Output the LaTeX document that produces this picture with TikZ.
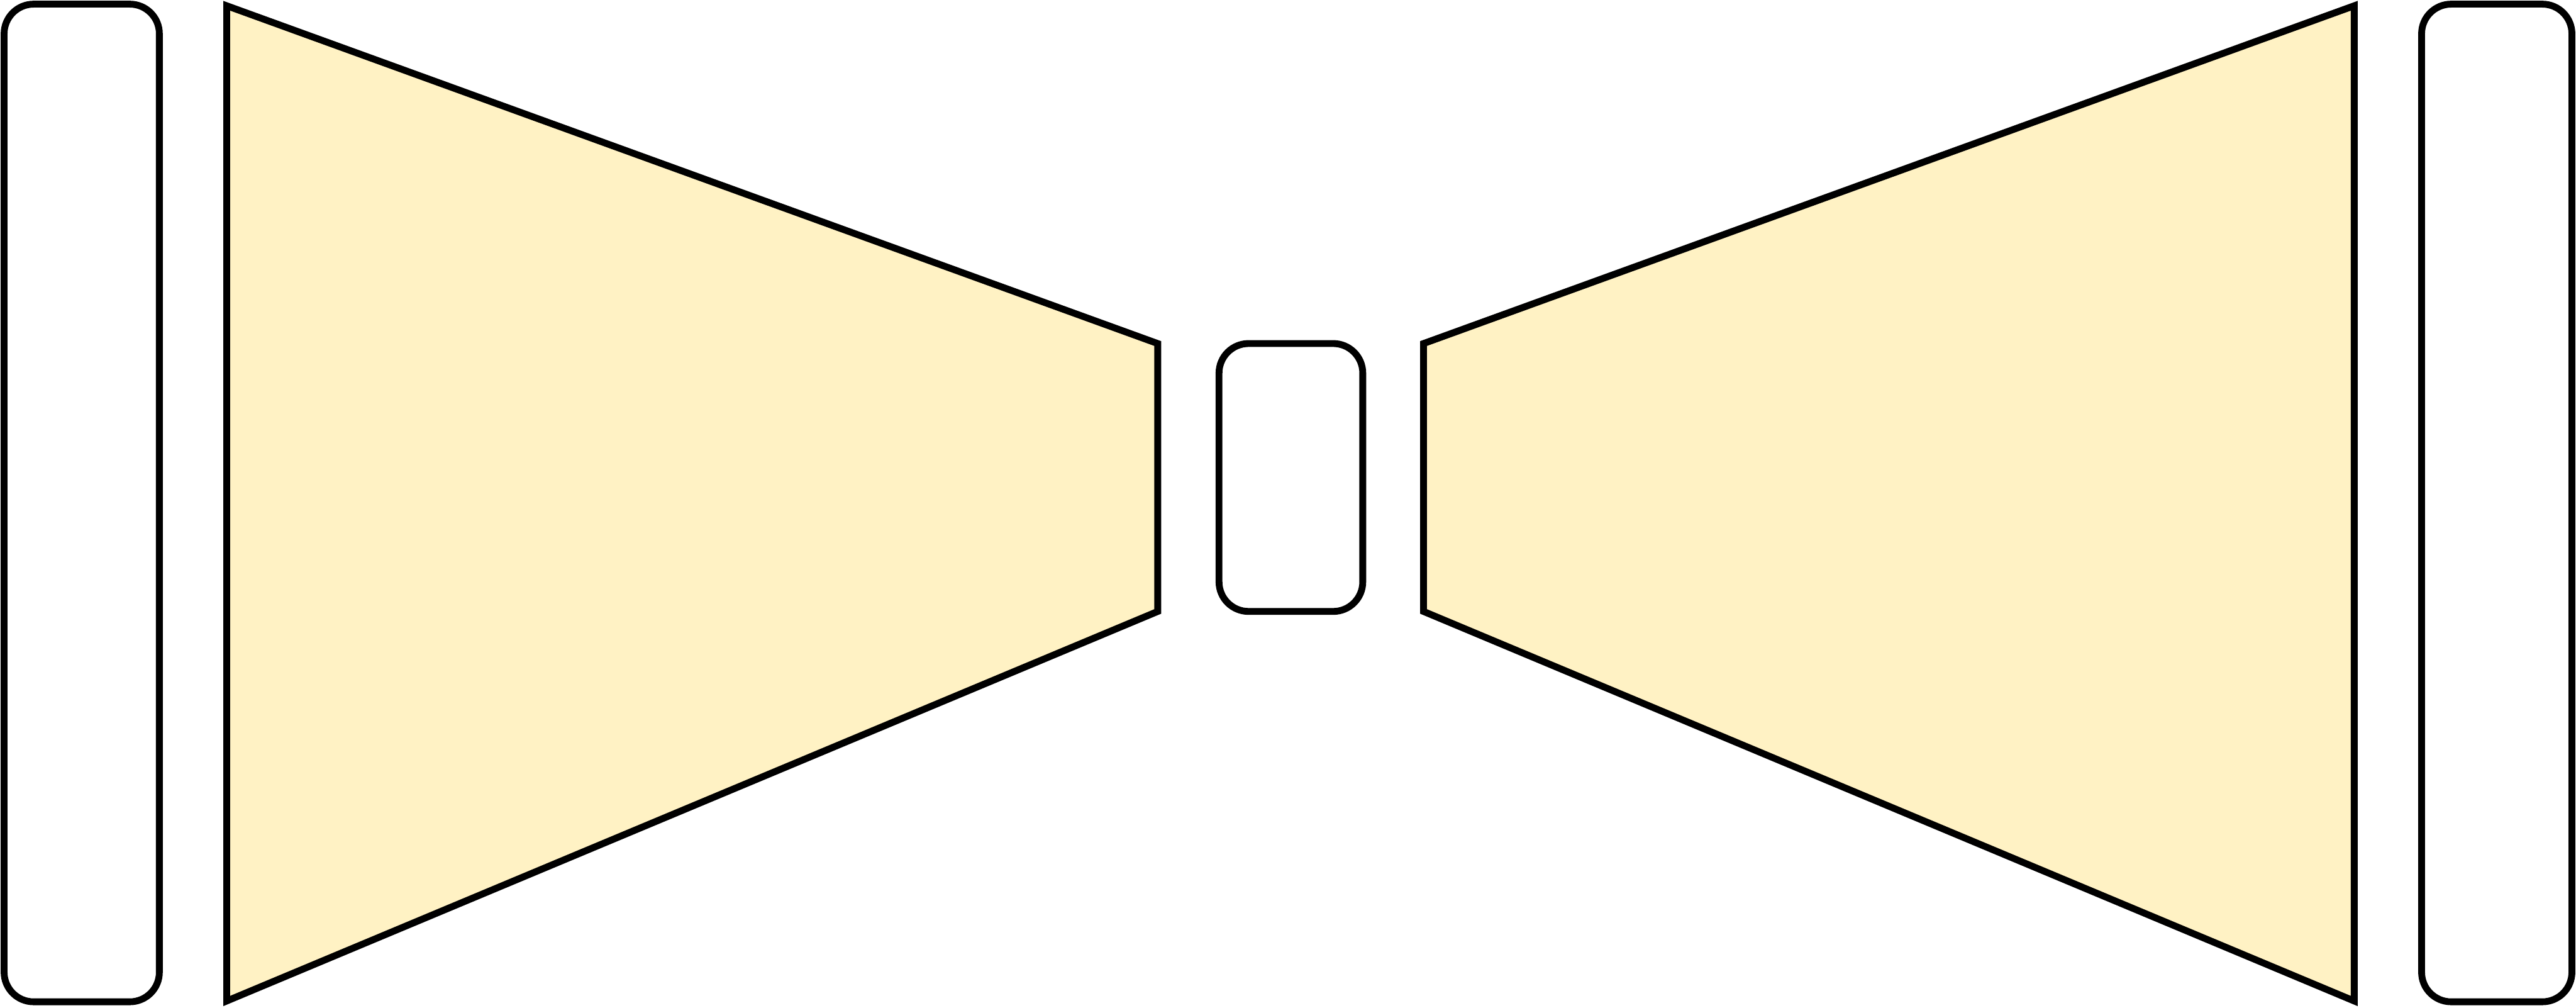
\documentclass[tikz,border=0pt]{standalone}
\usetikzlibrary{positioning}
\definecolor{trapfill}{HTML}{FFF2C4}
\tikzset{
  outline/.style={draw=black, line width=5.9pt},
  roundbox/.style={outline, fill=white, rounded corners=0.9cm, inner sep=0pt, outer sep=0pt},
  trap/.style={outline, fill=trapfill, line join=miter},
}
\begin{document}
\begin{tikzpicture}[x=0.05cm, y=-0.05cm]
\useasboundingbox (0,0) rectangle (1568,613);
% side boxes and bottleneck box
\node[roundbox, minimum width=4.725cm, minimum height=30.35cm] (inbox) at (49.75,306) {};
\node[roundbox, minimum width=4.375cm, minimum height=8.15cm] (code) at (785.75,290.5) {};
\node[roundbox, minimum width=4.575cm, minimum height=30.35cm] (outbox) at (1519.75,306) {};
% encoder and decoder trapezoids
\coordinate (e1) at (138,3.5);
\coordinate (e2) at (704.7,209);
\coordinate (e3) at (704.7,372);
\coordinate (e4) at (138,609);
\coordinate (d1) at (866.5,209);
\coordinate (d2) at (1433,3.5);
\coordinate (d3) at (1433,609);
\coordinate (d4) at (866.5,372);
\draw[trap] (e1) -- (e2) -- (e3) -- (e4) -- cycle;
\draw[trap] (d1) -- (d2) -- (d3) -- (d4) -- cycle;
\end{tikzpicture}
\end{document}
